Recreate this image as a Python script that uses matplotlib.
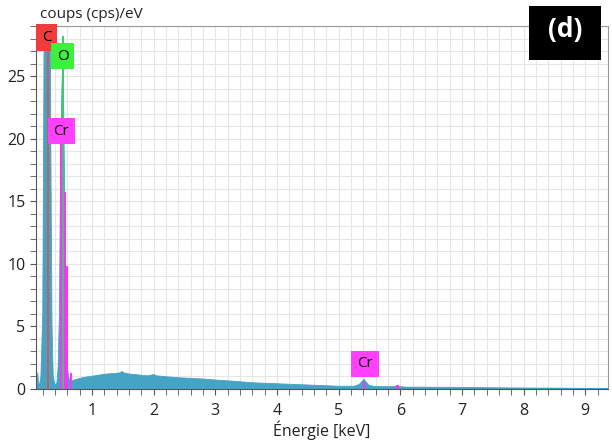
import matplotlib.pyplot as plt
from matplotlib.ticker import MultipleLocator
from matplotlib.patches import Rectangle

plt.rcParams['font.family'] = ['Open Sans', 'DejaVu Sans']

# spectre EDS
energie = [0.09, 0.11, 0.12, 0.13, 0.15, 0.17, 0.20, 0.22, 0.24, 0.26, 0.277, 0.295,
           0.31, 0.33, 0.35, 0.37, 0.40, 0.43, 0.45, 0.47, 0.49, 0.51, 0.525, 0.54,
           0.56, 0.58, 0.60, 0.63, 0.66, 0.70, 0.80, 0.90, 1.00, 1.10, 1.20, 1.30,
           1.40, 1.46, 1.49, 1.52, 1.60, 1.70, 1.80, 1.90, 1.97, 2.00, 2.05, 2.20,
           2.40, 2.60, 2.80, 3.00, 3.30, 3.60, 4.00, 4.30, 4.60, 5.00, 5.25, 5.33,
           5.38, 5.41, 5.44, 5.49, 5.58, 5.80, 5.95, 6.10, 6.50, 7.00, 7.50, 8.00,
           8.50, 9.00, 9.37]
coups = [0.35, 0.4, 1.3, 0.4, 0.4, 1.0, 6, 25, 45, 50, 52, 48,
         40, 20, 5, 1.0, 0.3, 0.5, 1.8, 6, 18, 24, 26, 22,
         14, 5, 1.6, 0.8, 0.6, 0.7, 0.85, 0.95, 1.02, 1.1, 1.18, 1.22,
         1.25, 1.3, 1.4, 1.28, 1.2, 1.15, 1.1, 1.05, 1.12, 1.15, 1.05, 0.98,
         0.9, 0.85, 0.8, 0.72, 0.62, 0.5, 0.42, 0.36, 0.3, 0.22, 0.22, 0.35,
         0.6, 0.78, 0.6, 0.3, 0.2, 0.18, 0.2, 0.15, 0.14, 0.13, 0.1, 0.08,
         0.07, 0.05, 0.05]

# raies des elements
raies_c = [0.277]
haut_c = [30]
raies_o = [0.525]
haut_o = [28.2]
raies_cr = [0.500, 0.566, 0.588, 0.652, 5.411, 5.946, 5.965]
haut_cr = [19.8, 15.7, 9.8, 1.3, 0.6, 0.35, 0.35]

etiquettes = ["C", "O", "Cr", "Cr"]
etiq_x = [0.262, 0.525, 0.50, 5.43]
etiq_y = [28.1, 26.6, 20.6, 2.0]
etiq_couleur = ["#f03c3c", "#3cf03c", "#ff40ff", "#ff40ff"]

fig = plt.figure(figsize=(6.12, 4.41), dpi=100)
ax = fig.add_axes([0.0588, 0.1179, 0.9347, 0.8231])

ax.fill_between(energie, coups, 0, color="#45a3c6", lw=0.6, zorder=2)
ax.vlines(raies_c, 0, haut_c, color="#e05050", lw=1.2, zorder=3)
ax.vlines(raies_o, 0, haut_o, color="#40c870", lw=1.4, zorder=3)
ax.vlines(raies_cr, 0, haut_cr, color="#ff30ff", lw=1.4, zorder=3)

for t, x, y, c in zip(etiquettes, etiq_x, etiq_y, etiq_couleur):
    ax.text(x, y, t, ha="center", va="center", fontsize=11, color="black", zorder=5,
            bbox=dict(boxstyle="square,pad=0.38", fc=c, ec="none"))

ax.set_xlim(0.09, 9.37)
ax.set_ylim(0, 29)
ax.xaxis.set_major_locator(MultipleLocator(1))
ax.xaxis.set_minor_locator(MultipleLocator(0.2))
ax.yaxis.set_major_locator(MultipleLocator(5))
ax.yaxis.set_minor_locator(MultipleLocator(1))
ax.set_xticks([1, 2, 3, 4, 5, 6, 7, 8, 9])
ax.grid(which="both", color="#e6e6e6", lw=0.8, zorder=0)
ax.set_axisbelow(True)
ax.tick_params(which="both", direction="out", length=4, color="#555555",
               labelsize=11.5, labelcolor="#222222")
ax.tick_params(axis="x", pad=6)

for s in ["top", "right"]:
    ax.spines[s].set_color("#999999")
for s in ["left", "bottom"]:
    ax.spines[s].set_color("#555555")

ax.set_xlabel("Énergie [keV]", fontsize=11.5, color="#222222", labelpad=1)
fig.text(0.065, 0.966, "coups (cps)/eV", fontsize=11, color="#222222", va="center")

fig.patches.append(Rectangle((0.864, 0.864), 0.118, 0.122, transform=fig.transFigure,
                             fc="black", ec="none", zorder=10))
fig.text(0.923, 0.932, "(d)", fontsize=19, fontweight="bold", color="white",
         ha="center", va="center", zorder=11)

fig.savefig("out.png", dpi=100)
